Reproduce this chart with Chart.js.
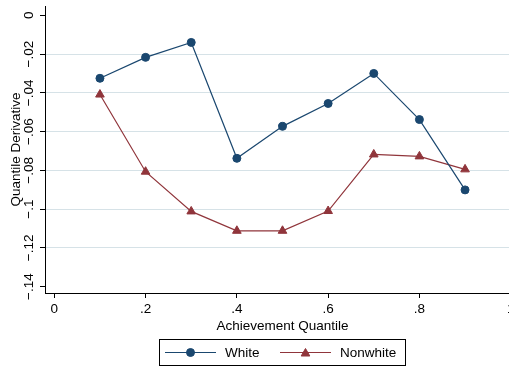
<!DOCTYPE html>
<html>
<head>
<meta charset="utf-8">
<script src="https://cdn.jsdelivr.net/npm/chart.js@4/dist/chart.umd.min.js"></script>
<style>
  html, body { margin: 0; padding: 0; background: #fff; overflow: hidden; }
  #wrap { width: 509px; height: 369px; overflow: hidden; }
  canvas { display: block; }
</style>
</head>
<body>
<div id="wrap"><canvas id="c" width="530" height="369"></canvas></div>
<script>
// Quantile points and estimated derivatives for each group
const quantiles = [0.1, 0.2, 0.3, 0.4, 0.5, 0.6, 0.7, 0.8, 0.9];
const white = [-0.0325, -0.0217, -0.0140, -0.0738, -0.0573, -0.0455, -0.0300, -0.0538, -0.0901];
const nonwhite = [-0.0409, -0.0807, -0.1012, -0.1112, -0.1112, -0.1010, -0.0718, -0.0728, -0.0795];
const xTicks = [0, 0.2, 0.4, 0.6, 0.8, 1];
const yTicks = [-0.14, -0.12, -0.10, -0.08, -0.06, -0.04, -0.02, 0];
const seriesNames = ['White', 'Nonwhite'];

const FONT = "'Liberation Sans', Arial, Helvetica, sans-serif";
const NAVY = '#1a476f';
const MAROON = '#90353b';
const GRID = '#d6e2e7';

// Stata-like number labels: ".2", "−.04", "0", "1"
function fmt(v) {
  if (Math.abs(v) < 1e-9) return '0';
  let s = String(Math.round(Math.abs(v) * 1000) / 1000);
  if (s.startsWith('0.')) s = s.slice(1);
  return (v < 0 ? '\u2212' : '') + s;
}
const near = (a, b) => Math.abs(a - b) < 1e-6;

const annotations = {
  id: 'stataText',
  afterDraw(chart) {
    const ctx = chart.ctx;
    const area = chart.chartArea;
    const ys = chart.scales.y;
    ctx.save();
    ctx.fillStyle = '#000';
    ctx.font = '13.5px ' + FONT;

    // rotated y tick labels
    ctx.textAlign = 'center';
    ctx.textBaseline = 'alphabetic';
    yTicks.forEach(v => {
      const py = ys.getPixelForValue(v);
      ctx.save();
      ctx.translate(33, py);
      ctx.rotate(-Math.PI / 2);
      ctx.fillText(fmt(v), 0, 0);
      ctx.restore();
    });

    // y axis title
    ctx.save();
    ctx.translate(20, (area.top + area.bottom) / 2);
    ctx.rotate(-Math.PI / 2);
    ctx.fillText('Quantile Derivative', 0, 0);
    ctx.restore();

    // x axis title
    ctx.fillText('Achievement Quantile', (area.left + area.right) / 2, 330);

    // legend
    const bx = 159.5, by = 339.5, bw = 246, bh = 26;
    ctx.strokeStyle = '#000';
    ctx.lineWidth = 1;
    ctx.strokeRect(bx, by, bw, bh);
    const entries = [
      { x0: 165, text: 225, ds: chart.data.datasets[0] },
      { x0: 280, text: 340, ds: chart.data.datasets[1] }
    ];
    ctx.textAlign = 'left';
    entries.forEach(e => {
      const ly = 352.5;
      ctx.strokeStyle = e.ds.borderColor;
      ctx.lineWidth = e.ds.borderWidth;
      ctx.beginPath();
      ctx.moveTo(e.x0, ly);
      ctx.lineTo(e.x0 + 51, ly);
      ctx.stroke();
      ctx.fillStyle = e.ds.pointBackgroundColor;
      ctx.strokeStyle = e.ds.pointBorderColor;
      ctx.lineWidth = 1;
      Chart.helpers.drawPoint(ctx, {
        pointStyle: e.ds.pointStyle, radius: e.ds.pointRadius, rotation: 0, borderWidth: 1
      }, e.x0 + 25.5, ly + (e.ds.pointStyle === 'triangle' ? 1 : 0));
      ctx.fillStyle = '#000';
      ctx.fillText(e.ds.label, e.text, 357);
    });
    ctx.restore();
  }
};

new Chart(document.getElementById('c'), {
  type: 'line',
  data: {
    datasets: [
      {
        label: seriesNames[0],
        data: quantiles.map((q, i) => ({ x: q, y: white[i] })),
        borderColor: NAVY, borderWidth: 1.2,
        pointStyle: 'circle', pointRadius: 4,
        pointBackgroundColor: NAVY, pointBorderColor: NAVY, pointBorderWidth: 1,
        tension: 0, fill: false
      },
      {
        label: seriesNames[1],
        data: quantiles.map((q, i) => ({ x: q, y: nonwhite[i] })),
        borderColor: MAROON, borderWidth: 1.2,
        pointStyle: 'triangle', pointRadius: 5,
        pointBackgroundColor: MAROON, pointBorderColor: MAROON, pointBorderWidth: 1,
        tension: 0, fill: false
      }
    ]
  },
  options: {
    responsive: false,
    animation: false,
    devicePixelRatio: 1,
    layout: { padding: { left: 0, top: 4, right: 10, bottom: 0 } },
    plugins: { legend: { display: false }, tooltip: { enabled: false } },
    scales: {
      x: {
        type: 'linear',
        min: -0.0204, max: 1.0204,
        afterBuildTicks: s => { s.ticks = xTicks.map(v => ({ value: v })); },
        afterFit: s => { s.height = 76; },
        border: { color: '#000', width: 1 },
        grid: { drawOnChartArea: false, drawTicks: true, tickLength: 5, tickColor: '#000', tickWidth: 1 },
        ticks: {
          color: '#000', padding: 3, maxRotation: 0, minRotation: 0,
          font: { family: FONT, size: 13.5 },
          callback: v => fmt(v)
        }
      },
      y: {
        type: 'linear',
        min: -0.1433, max: 0.0048,
        afterBuildTicks: s => { s.ticks = yTicks.map(v => ({ value: v })); },
        afterFit: s => { s.width = 45; },
        border: { color: '#000', width: 1 },
        grid: {
          color: c => (c.tick && (near(c.tick.value, 0) || near(c.tick.value, -0.14))) ? 'rgba(0,0,0,0)' : GRID,
          lineWidth: 1, drawTicks: true, tickLength: 5, tickColor: '#000', tickWidth: 1
        },
        ticks: { display: false }
      }
    }
  },
  plugins: [annotations]
});
</script>
</body>
</html>
